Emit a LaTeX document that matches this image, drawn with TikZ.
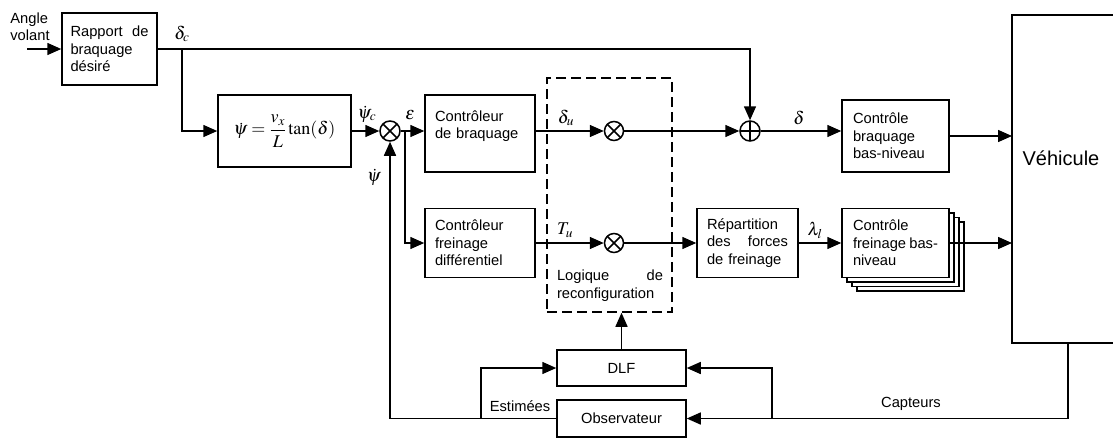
\documentclass[tikz,border=0pt]{standalone}
\usepackage{mathptmx}
\usepackage[no-math]{fontspec}
\setmainfont{Liberation Sans}
\usetikzlibrary{arrows.meta}
\begin{document}
\begin{tikzpicture}[x=1pt, y=-1pt, line width=1.5pt,
    >={Triangle[length=14pt,width=12pt]},
    txt/.style={font=\fontsize{14.7}{17.4}\selectfont},
    sig/.style={font=\fontsize{18}{22}\selectfont, inner sep=0pt},
    block/.style={draw, txt, align=left, inner xsep=0pt, inner ysep=2pt},
    mult/.style={circle, draw, minimum size=19pt, inner sep=0pt, path picture={
        \draw (path picture bounding box.north west) -- (path picture bounding box.south east)
              (path picture bounding box.north east) -- (path picture bounding box.south west);}},
    plus/.style={circle, draw, minimum size=20pt, inner sep=0pt, path picture={
        \draw (path picture bounding box.north) -- (path picture bounding box.south)
              (path picture bounding box.west) -- (path picture bounding box.east);}}]
  \useasboundingbox (0,0) rectangle (1113,437);
  % blocs de la chaine directe
  \node[txt, align=left] (angle) at (30,27) {Angle\\volant};
  \coordinate (in) at (27,49);
  \node[block, text width=78pt, minimum width=95pt, minimum height=72pt] (rapport) at (109.5,49) {Rapport\hfill de\\braquage\\désiré};
  \node[draw, minimum width=133pt, minimum height=72pt, font=\fontsize{18}{22}\selectfont] (psi) at (284.5,131) {$\displaystyle\dot{\psi}=\frac{v_x}{L}\tan(\delta)$};
  \node[mult, minimum size=20pt] (s1) at (390,131) {};
  \node[block, text width=90pt, minimum width=110pt, minimum height=77pt] (cbraq) at (480,133.5) {Contrôleur\\de braquage\\\mbox{}};
  \node[block, text width=90pt, minimum width=110pt, minimum height=69pt] (cfrein) at (480,243) {Contrôleur\\freinage\\différentiel};
  \node[draw, dash pattern=on 10pt off 5pt, minimum width=125pt, minimum height=234pt] (logic) at (609.5,195) {};
  \node[txt, text width=106pt, align=left, inner sep=0pt] (logtxt) at (610,285.5) {Logique\hfill de\\reconfiguration};
  \node[mult] (m1) at (614,131) {};
  \node[mult] (m2) at (614,243) {};
  \node[plus] (sum) at (750,131) {};
  \node[block, text width=85pt, minimum width=107pt, minimum height=72pt] (cbb) at (895.5,136) {Contrôle\\braquage\\bas-niveau};
  \node[block, text width=81pt, minimum width=101pt, minimum height=69pt] (rep) at (747.5,243) {Répartition\\des\hfill forces\\de freinage};
  \foreach \d in {15,10,5}
    \draw[fill=white] ({842+\d},{208.5+0.9*\d}) rectangle ++(107,69);
  \node[block, fill=white, text width=85pt, minimum width=107pt, minimum height=69pt] (cfb) at (895.5,243) {Contrôle\\freinage\hfill bas-\\niveau};
  % vehicule (coupe par le bord droit)
  \coordinate (vehnw) at (1012,15);
  \coordinate (vehsw) at (1012,343);
  \draw (1130,15) -- (vehnw) -- (vehsw) -- (1130,343);
  \node[font=\fontsize{20}{24}\selectfont] (vehtxt) at (1061,158) {Véhicule};
  % diagnostic et observation
  \node[block, align=center, minimum width=129pt, minimum height=36pt] (dlf) at (621.5,368) {DLF};
  \node[block, align=center, minimum width=129pt, minimum height=37pt] (obs) at (621.5,418.5) {Observateur};
  % liaisons
  \draw[->] (in) -- (in -| rapport.west);
  \draw[->] (rapport.east) -| (sum.north);
  \coordinate (b1) at (182,49);
  \draw[->] (b1) |- (psi.west);
  \draw[->] (psi.east) -- (s1.west);
  \draw[->] (s1.east) -- (s1.east -| cbraq.west);
  \coordinate (b2) at (405,131);
  \draw[->] (b2) |- (cfrein.west);
  \draw[->] (m1 -| cbraq.east) -- (m1.west);
  \draw[->] (m1.east) -- (sum.west);
  \draw[->] (sum.east) -- (sum.east -| cbb.west);
  \draw[->] (cbb.east) -- (cbb.east -| vehnw);
  \draw[->] (m2 -| cfrein.east) -- (m2.west);
  \draw[->] (m2.east) -- (rep.west);
  \draw[->] (rep.east) -- (cfb.west);
  \draw[->] (cfb.east) -- (cfb.east -| vehnw);
  % retours
  \coordinate (cap) at (1068,343);
  \draw[->] (cap) |- (obs.east);
  \coordinate (b3) at (772,418.5);
  \draw[->] (b3) |- (dlf.east);
  \draw[->] (obs.west) -| (s1.south);
  \coordinate (b4) at (481,418.5);
  \draw[->] (b4) |- (dlf.west);
  \draw[->] (dlf.north) -- (dlf.north |- logic.south);
  % signaux
  \node[sig] (ldc) at (182,34) {$\delta_c$};
  \node[sig] (lpsic) at (367,114) {$\dot{\psi}_c$};
  \node[sig] (lpsi) at (374,177) {$\dot{\psi}$};
  \node[sig] (leps) at (410,115) {$\varepsilon$};
  \node[sig] (ldu) at (566,118) {$\delta_u$};
  \node[sig] (ltu) at (565,230) {$T_u$};
  \node[sig] (ld) at (799,118) {$\delta$};
  \node[sig] (ll) at (815,230) {$\lambda_l$};
  \node[txt] (lest) at (520,406) {Estimées};
  \node[txt] (lcap) at (911,404) {Capteurs};
\end{tikzpicture}
\end{document}
